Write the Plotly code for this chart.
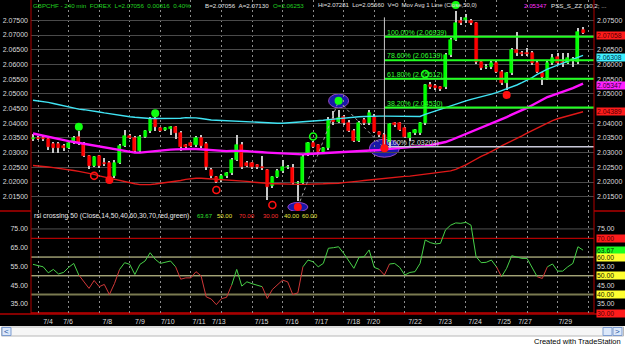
import plotly.graph_objects as go

W, H = 625, 347
def px(x): return x / W
def py(y): return 1 - y / H

FONT = "Liberation Sans, Arial, sans-serif"

# ---------------- data ----------------
opens = [2.0346,2.0350,2.0349,2.0345,2.0330,2.0328,2.0322,2.0316,2.0336,2.0354,
         2.0330,2.0288,2.0255,2.0288,2.0266,2.0266,2.0220,2.0266,2.0322,2.0355,
         2.0350,2.0305,2.0353,2.0372,2.0414,2.0384,2.0377,2.0379,2.0386,2.0368,
         2.0326,2.0331,2.0325,2.0348,2.0330,2.0241,2.0218,2.0206,2.0220,2.0229,
         2.0275,2.0326,2.0266,2.0263,2.0258,2.0252,2.0241,2.0186,2.0218,2.0236,
         2.0250,2.0246,2.0195,2.0197,2.0297,2.0331,2.0325,2.0303,2.0314,2.0416,
         2.0405,2.0420,2.0402,2.0374,2.0340,2.0411,2.0402,2.0422,2.0371,2.0360,
         2.0335,2.0400,2.0400,2.0382,2.0349,2.0365,2.0366,2.0400,2.0530,2.0528,
         2.0524,2.0524,2.0632,2.0683,2.0748,2.0750,2.0746,2.0740,2.0609,2.0590,
         2.0590,2.0604,2.0575,2.0536,2.0570,2.0649,2.0640,2.0640,2.0638,2.0604,
         2.0570,2.0553,2.0604,2.0626,2.0609,2.0604,2.0610,2.0609,2.0716]
highs = [2.0362,2.0356,2.0355,2.0350,2.0336,2.0335,2.0328,2.0340,2.0358,2.0372,
         2.0335,2.0292,2.0290,2.0292,2.0280,2.0270,2.0275,2.0330,2.0377,2.0362,
         2.0358,2.0360,2.0378,2.0420,2.0420,2.0388,2.0386,2.0392,2.0392,2.0372,
         2.0330,2.0336,2.0355,2.0360,2.0335,2.0248,2.0222,2.0226,2.0235,2.0280,
         2.0360,2.0335,2.0270,2.0268,2.0262,2.0290,2.0245,2.0222,2.0245,2.0275,
         2.0258,2.0260,2.0205,2.0292,2.0336,2.0340,2.0330,2.0320,2.0420,2.0440,
         2.0445,2.0428,2.0410,2.0380,2.0408,2.0418,2.0445,2.0430,2.0375,2.0365,
         2.0400,2.0405,2.0405,2.0386,2.0370,2.0380,2.0405,2.0535,2.0540,2.0532,
         2.0528,2.0640,2.0690,2.0780,2.0760,2.0770,2.0755,2.0745,2.0612,2.0600,
         2.0612,2.0610,2.0580,2.0575,2.0655,2.0711,2.0645,2.0655,2.0645,2.0610,
         2.0575,2.0610,2.0635,2.0640,2.0640,2.0640,2.0625,2.0725,2.0728]
lows = [2.0338,2.0342,2.0340,2.0310,2.0300,2.0298,2.0305,2.0312,2.0330,2.0325,
        2.0285,2.0245,2.0250,2.0248,2.0255,2.0205,2.0215,2.0262,2.0318,2.0345,
        2.0298,2.0300,2.0348,2.0368,2.0375,2.0370,2.0372,2.0360,2.0345,2.0305,
        2.0315,2.0318,2.0320,2.0315,2.0240,2.0212,2.0195,2.0200,2.0215,2.0225,
        2.0270,2.0245,2.0250,2.0245,2.0244,2.0240,2.0139,2.0180,2.0212,2.0230,
        2.0245,2.0190,2.0135,2.0190,2.0290,2.0315,2.0298,2.0298,2.0310,2.0395,
        2.0400,2.0395,2.0370,2.0335,2.0335,2.0395,2.0395,2.0365,2.0352,2.0312,
        2.0315,2.0388,2.0372,2.0350,2.0340,2.0360,2.0360,2.0395,2.0515,2.0512,
        2.0510,2.0518,2.0625,2.0678,2.0735,2.0740,2.0735,2.0600,2.0580,2.0585,
        2.0585,2.0570,2.0530,2.0513,2.0565,2.0630,2.0628,2.0630,2.0598,2.0570,
        2.0530,2.0548,2.0598,2.0598,2.0590,2.0600,2.0590,2.0600,2.0703]
closes = [2.0350,2.0347,2.0345,2.0318,2.0315,2.0314,2.0316,2.0334,2.0348,2.0332,
          2.0290,2.0255,2.0286,2.0255,2.0260,2.0210,2.0266,2.0322,2.0355,2.0350,
          2.0305,2.0353,2.0372,2.0414,2.0387,2.0375,2.0383,2.0388,2.0366,2.0318,
          2.0320,2.0323,2.0348,2.0322,2.0252,2.0220,2.0201,2.0221,2.0229,2.0275,
          2.0326,2.0252,2.0255,2.0252,2.0250,2.0246,2.0184,2.0218,2.0238,2.0252,
          2.0252,2.0195,2.0198,2.0286,2.0331,2.0320,2.0303,2.0314,2.0411,2.0405,
          2.0418,2.0402,2.0374,2.0340,2.0402,2.0402,2.0436,2.0371,2.0360,2.0320,
          2.0397,2.0394,2.0377,2.0354,2.0365,2.0377,2.0400,2.0530,2.0524,2.0521,
          2.0518,2.0632,2.0683,2.0740,2.0742,2.0758,2.0740,2.0609,2.0587,2.0592,
          2.0606,2.0575,2.0536,2.0570,2.0649,2.0638,2.0634,2.0635,2.0604,2.0575,
          2.0558,2.0604,2.0621,2.0604,2.0604,2.0621,2.0618,2.0711,2.07058]

ma_cyan = [2.0478,2.0476,2.0474,2.0471,2.0467,2.0463,2.0459,2.0455,2.0451,2.0448,
           2.0446,2.0444,2.0441,2.0438,2.0435,2.0432,2.0429,2.0426,2.0424,2.0422,
           2.0420,2.0418,2.0417,2.0416,2.0416,2.0416,2.0416,2.0416,2.0416,2.0417,
           2.0419,2.0419,2.0418,2.0416,2.0413,2.0411,2.0410,2.0409,2.0408,2.0407,
           2.0406,2.0405,2.0404,2.0403,2.0402,2.0401,2.0400,2.0400,2.0400,2.0400,
           2.0401,2.0402,2.0403,2.0404,2.0405,2.0406,2.0408,2.0410,2.0412,2.0414,
           2.0416,2.0418,2.0420,2.0421,2.0422,2.0423,2.0424,2.0424,2.0424,2.0424,
           2.0424,2.0423,2.0423,2.0422,2.0422,2.0422,2.0423,2.0430,2.0436,2.0442,
           2.0448,2.0453,2.0459,2.0465,2.0471,2.0476,2.0481,2.0485,2.0489,2.0494,
           2.0499,2.0504,2.0510,2.0516,2.0523,2.0530,2.0538,2.0546,2.0555,2.0566,
           2.0576,2.0584,2.0591,2.0598,2.0605,2.0612,2.0618,2.0624,2.06308]
ma_magenta = [2.0365,2.0361,2.0357,2.0353,2.0350,2.0346,2.0342,2.0339,2.0336,2.0333,
              2.0329,2.0325,2.0322,2.0319,2.0316,2.0313,2.0310,2.0307,2.0304,2.0301,
              2.0300,2.0300,2.0302,2.0304,2.0306,2.0308,2.0309,2.0310,2.0311,2.0312,
              2.0312,2.0312,2.0312,2.0311,2.0310,2.0308,2.0306,2.0305,2.0305,2.0306,
              2.0307,2.0306,2.0305,2.0303,2.0302,2.0301,2.0300,2.0299,2.0298,2.0297,
              2.0296,2.0295,2.0294,2.0294,2.0295,2.0296,2.0297,2.0298,2.0299,2.0300,
              2.0300,2.0301,2.0302,2.0303,2.0303,2.0304,2.0305,2.0307,2.0309,2.0311,
              2.0313,2.0315,2.0317,2.0318,2.0319,2.0320,2.0320,2.0322,2.0325,2.0328,
              2.0331,2.0336,2.0342,2.0349,2.0356,2.0363,2.0371,2.0378,2.0385,2.0392,
              2.0399,2.0407,2.0414,2.0421,2.0429,2.0436,2.0444,2.0452,2.0461,2.0470,
              2.0480,2.0489,2.0495,2.0501,2.0506,2.0512,2.0519,2.0527,2.05347]
ma_red = [2.0256,2.0255,2.0253,2.0251,2.0249,2.0247,2.0245,2.0242,2.0239,2.0236,
          2.0233,2.0231,2.0226,2.0221,2.0217,2.0214,2.0209,2.0204,2.0200,2.0196,
          2.0194,2.0191,2.0190,2.0191,2.0193,2.0195,2.0198,2.0200,2.0202,2.0205,
          2.0209,2.0212,2.0213,2.0213,2.0212,2.0211,2.0210,2.0208,2.0207,2.0205,
          2.0204,2.0203,2.0202,2.0200,2.0198,2.0196,2.0195,2.0194,2.0194,2.0193,
          2.0193,2.0192,2.0192,2.0192,2.0192,2.0193,2.0193,2.0194,2.0195,2.0195,
          2.0196,2.0198,2.0199,2.0201,2.0203,2.0205,2.0207,2.0209,2.0211,2.0213,
          2.0214,2.0216,2.0218,2.0219,2.0220,2.0222,2.0224,2.0226,2.0228,2.0230,
          2.0232,2.0235,2.0238,2.0243,2.0250,2.0258,2.0268,2.0278,2.0287,2.0295,
          2.0303,2.0313,2.0323,2.0331,2.0340,2.0349,2.0357,2.0366,2.0375,2.0384,
          2.0392,2.0401,2.0409,2.0415,2.0420,2.0425,2.0430,2.0435,2.04389]

rsi = [56.1,55.6,54.8,51.6,53.4,51.0,51.8,54.5,56.6,50.4,
       46.5,43.3,47.5,44.2,45.4,40.0,45.9,53.4,57.0,56.1,
       50.7,56.1,57.9,62.3,58.8,56.6,57.2,57.9,54.8,48.2,
       48.9,48.9,52.2,50.0,38.8,37.6,34.6,37.8,38.5,45.0,
       53.4,44.5,46.8,45.8,45.0,44.2,37.9,42.7,45.4,47.7,
       46.8,40.0,40.9,54.8,58.4,57.5,54.8,56.6,64.7,65.0,
       65.5,62.0,58.0,54.0,59.8,60.2,63.8,54.5,53.4,50.4,
       56.3,56.6,54.5,50.4,51.8,52.2,56.6,69.1,67.7,67.0,
       67.3,74.5,77.0,78.2,78.0,78.5,77.0,60.2,57.0,57.2,
       58.4,54.8,49.5,54.0,60.7,59.8,59.3,59.3,54.0,49.5,
       48.6,54.8,56.3,52.5,52.5,54.8,56.6,65.5,63.67]
rsi_state = ("gggggggggg" "rrrrrrrr" "ggggggggggg" "rrrrrrrrrrr" "gggggg" "rrrrrrrr"
             "ggggggggggggggg" "rr" "ggggggggggggggggggggg" "r" "ggggggg" "rr" "ggggggg")

rsi_levels = [70, 60, 50, 40, 30]

date_pos = [2.95, 6.87, 14.6, 20.99, 26.45, 32.6, 36.5, 44.9, 50.8, 56.6,
            62.9, 66.8, 75.0, 80.9, 86.8, 92.5, 96.6, 104.5]
date_text = ["7/4", "7/6", "7/8", "7/9", "7/10", "7/11", "7/13", "7/15", "7/16", "7/17",
             "7/18", "7/20", "7/22", "7/23", "7/24", "7/25", "7/27", "7/29"]

price_ticks = [2.015, 2.020, 2.025, 2.030, 2.035, 2.040, 2.045, 2.050, 2.055,
               2.060, 2.065, 2.070, 2.075]
price_ticks_right = [2.015, 2.020, 2.025, 2.030, 2.035, 2.040, 2.050, 2.055,
                     2.060, 2.065, 2.075]
rsi_ticks = [35, 45, 55, 65, 75]
rsi_ticks_right = [35, 45, 55, 75]

fib_pct = ["100.00%", "78.60%", "61.80%", "38.20%", "0.00%"]
fib_price = [2.06939, 2.06139, 2.05512, 2.04530, 2.03203]
fib_anchor = 69

green_ball_x = [9, 24, 60, 83]
green_ball_y = [2.0388, 2.0434, 2.0476, 2.0802]
red_ball_x = [15, 52, 69, 93]
red_ball_y = [2.0207, 2.0115, 2.0315, 2.0496]
red_ring_x = [12, 36, 47]
red_ring_y = [2.0221, 2.0173, 2.0122]
green_ring_x = [55, 77]
green_ring_y = [2.0355, 2.0567]
zigzag_x = [52, 60, 69]
zigzag_y = [2.0115, 2.0476, 2.0315]

# ---------------- geometry ----------------
n = len(opens)
idx = list(range(n))
X0_PIX, BAR_PIX = 33.0, 5.093
x_lo = (31 - X0_PIX) / BAR_PIX
x_hi = (594 - X0_PIX) / BAR_PIX
P_PER_PIX = 1 / 2940.0
y_main = [2.07 - (211 - 35) * P_PER_PIX, 2.07 + 35 * P_PER_PIX]
R_PER_PIX = 1 / 1.875
y_rsi = [70 - (313.7 - 238.3) * R_PER_PIX, 70 + (238.3 - 211) * R_PER_PIX]

GREEN, RED = "#00ff00", "#ff0000"
fig = go.Figure()

# wicks
fig.add_trace(go.Bar(x=idx, base=lows, y=[h - l for h, l in zip(highs, lows)],
                     width=0.2, marker=dict(color="#c8c8c8", line=dict(width=0)),
                     xaxis="x", yaxis="y", hoverinfo="skip", showlegend=False))
# bodies
body_col = [GREEN if c >= o else RED for o, c in zip(opens, closes)]
fig.add_trace(go.Bar(x=idx, base=[min(o, c) for o, c in zip(opens, closes)],
                     y=[abs(c - o) for o, c in zip(opens, closes)], width=0.6,
                     marker=dict(color=body_col, line=dict(color=body_col, width=0.6)),
                     xaxis="x", yaxis="y", hoverinfo="skip", showlegend=False))

# moving averages
for arr, col, w in [(ma_red, "#e01818", 1.4), (ma_magenta, "#ff10ff", 2.4), (ma_cyan, "#40e4f4", 1.4)]:
    fig.add_trace(go.Scatter(x=idx, y=arr, mode="lines", line=dict(color=col, width=w),
                             xaxis="x", yaxis="y", hoverinfo="skip", showlegend=False))

# zigzag
fig.add_trace(go.Scatter(x=zigzag_x, y=zigzag_y, mode="lines",
                         line=dict(color="#a0a0a0", width=1, dash="dot"),
                         xaxis="x", yaxis="y", hoverinfo="skip", showlegend=False))

# fibonacci
for pct, p in zip(fib_pct, fib_price):
    is_zero = p == fib_price[-1]
    fig.add_trace(go.Scatter(x=[fib_anchor, x_hi], y=[p, p], mode="lines",
                             line=dict(color="#c8c8d8" if is_zero else "#20ff20",
                                       width=1.5 if is_zero else 2),
                             xaxis="x", yaxis="y", hoverinfo="skip", showlegend=False))
fig.add_trace(go.Scatter(x=[fib_anchor, fib_anchor], y=[fib_price[-1], 2.0760], mode="lines",
                         line=dict(color="#c8c8c8", width=1),
                         xaxis="x", yaxis="y", hoverinfo="skip", showlegend=False))

# markers
fig.add_trace(go.Scatter(x=green_ball_x, y=green_ball_y, mode="markers",
                         marker=dict(color="#10ff10", size=8, line=dict(width=0)),
                         xaxis="x", yaxis="y", hoverinfo="skip", showlegend=False))
fig.add_trace(go.Scatter(x=red_ball_x, y=red_ball_y, mode="markers",
                         marker=dict(color="#ff1010", size=8, line=dict(width=0)),
                         xaxis="x", yaxis="y", hoverinfo="skip", showlegend=False))
fig.add_trace(go.Scatter(x=red_ring_x, y=red_ring_y, mode="markers",
                         marker=dict(symbol="circle-open", color="#ff1010", size=7, line=dict(width=1.6)),
                         xaxis="x", yaxis="y", hoverinfo="skip", showlegend=False))
fig.add_trace(go.Scatter(x=green_ring_x, y=green_ring_y, mode="markers",
                         marker=dict(symbol="circle-open", color="#10ff10", size=7, line=dict(width=1.6)),
                         xaxis="x", yaxis="y", hoverinfo="skip", showlegend=False))
# right price axis helper
fig.add_trace(go.Scatter(x=[0], y=[closes[0]], mode="markers", opacity=0,
                         xaxis="x", yaxis="y3", hoverinfo="skip", showlegend=False))

# RSI segments
segs = []
cur = None
for i in range(1, n):
    c = rsi_state[i]
    if cur is None or c != cur[0]:
        cur = [c, [i - 1, i]]
        segs.append(cur)
    else:
        cur[1].append(i)
for c, pts in segs:
    fig.add_trace(go.Scatter(x=pts, y=[rsi[j] for j in pts], mode="lines",
                             line=dict(color="#48d048" if c == "g" else "#d03838", width=1),
                             xaxis="x2", yaxis="y2", hoverinfo="skip", showlegend=False))
fig.add_trace(go.Scatter(x=[0], y=[rsi[0]], mode="markers", opacity=0,
                         xaxis="x3", yaxis="y2", hoverinfo="skip", showlegend=False))
fig.add_trace(go.Scatter(x=[0], y=[rsi[0]], mode="markers", opacity=0,
                         xaxis="x2", yaxis="y4", hoverinfo="skip", showlegend=False))

shapes = []
# ellipses at zigzag pivots
for (zx, zy), (hw, hh) in zip(zip(zigzag_x, zigzag_y), [(10, 4.5), (10, 7), (15, 9)]):
    shapes.append(dict(type="circle", xref="x", yref="y", xsizemode="pixel", ysizemode="pixel",
                       xanchor=zx, yanchor=zy, x0=-hw, x1=hw, y0=-hh, y1=hh,
                       fillcolor="#1818a8", line=dict(color="#9848c8", width=1), layer="below"))
# RSI level lines
lvl_style = {70: ("#b00000", 1.2), 60: ("#e8e8a8", 1), 50: ("#e8e8a8", 1), 40: ("#7a7a50", 2), 30: ("#c00000", 2)}
for lv in rsi_levels:
    c, w = lvl_style[lv]
    shapes.append(dict(type="line", xref="x2 domain", yref="y2", x0=0, x1=1, y0=lv, y1=lv,
                       line=dict(color=c, width=w), layer="below"))
shapes.append(dict(type="line", xref="x2 domain", yref="y2", x0=0, x1=1, y0=75, y1=75,
                   line=dict(color="#505050", width=1), layer="below"))
# frame lines
BR = "#b00000"
for xx in (31, 594):
    shapes.append(dict(type="line", xref="paper", yref="paper", x0=px(xx), x1=px(xx),
                       y0=py(0), y1=py(314), line=dict(color=BR, width=1), layer="above"))
for a, b in ((0, 31), (594, 625)):
    shapes.append(dict(type="line", xref="paper", yref="paper", x0=px(a), x1=px(b),
                       y0=py(211), y1=py(211), line=dict(color=BR, width=1.5), layer="above"))
shapes.append(dict(type="line", xref="paper", yref="paper", x0=0, x1=1,
                   y0=py(314), y1=py(314), line=dict(color=BR, width=1.5), layer="above"))
# bottom white band with scrollbar
shapes.append(dict(type="rect", xref="paper", yref="paper", x0=0, x1=1, y0=0, y1=py(326),
                   fillcolor="#ffffff", line=dict(width=0), layer="above"))
shapes.append(dict(type="rect", xref="paper", yref="paper", x0=px(1.5), x1=px(623.5),
                   y0=py(336), y1=py(327), fillcolor="#f6f6f6", line=dict(color="#b8b8b8", width=1), layer="above"))
for a, b in ((2, 11), (603, 612), (613, 622)):
    shapes.append(dict(type="rect", xref="paper", yref="paper", x0=px(a), x1=px(b),
                       y0=py(335.5), y1=py(327.5), fillcolor="#dce8fa", line=dict(color="#7c9cd0", width=1), layer="above"))

ann = []
def txt(x, y, s, col, size=6.5, xanchor="left"):
    ann.append(dict(x=px(x), y=py(y), xref="paper", yref="paper", text=s, showarrow=False,
                    xanchor=xanchor, yanchor="middle", font=dict(family=FONT, size=size, color=col),
                    borderpad=0))

NB = " \u00a0"
# header
hdr = [("GBPCHF - 240 min  FOREX  L=2.07056  0.00816  0.40%", "#20d020", 32, 6.2),
       ("B=2.07056  A=2.07130", "#e0e0e0", 204, 6.2),
       ("O=2.06253", "#20d020", 272, 6.2),
       ("Hi=2.07281  Lo=2.05660  V=0  Mov Avg 1 Line (Close,50,0)", "#e0e0e0", 317, 6.0),
       (f"{ma_magenta[-1]:.5f}", "#ff30ff", 523, 6.2),
       ("PSS_S_ZZ (10,2; ...", "#e0e0e0", 550, 6.2)]
for s, c, x, sz in hdr:
    txt(x, 5.5, s.replace("  ", NB), c, size=sz)

# RSI header
txt(33, 216, "rsi crossing 50 (Close,14,50,40,60,30,70,red,green)", "#e8e8e8", size=6.8)
rsi_hdr = [(f"{rsi[-1]:.2f}", "#30e030", 196), ("50.00", "#e8e840", 216), ("70.00", "#ff3030", 238),
           ("30.00", "#ff3030", 262), ("40.00", "#e8e840", 283), ("60.00", "#e8e840", 301)]
for s, c, x in rsi_hdr:
    txt(x, 216, s, c, size=6.0)

# fib labels
for pct, p in zip(fib_pct, fib_price):
    col = "#e0e0e0" if p == fib_price[-1] else "#30ff30"
    ann.append(dict(x=fib_anchor + 0.3, y=p, xref="x", yref="y", text=f"{pct} ({p:.5f})",
                    showarrow=False, xanchor="left", yanchor="bottom", yshift=-1,
                    font=dict(family=FONT, size=7, color=col), borderpad=0))

# right value boxes
def box(v, yref, s, bg, fg, shift=0):
    ann.append(dict(x=px(595.5), y=v, xref="paper", yref=yref, text=s, showarrow=False,
                    xanchor="left", yanchor="middle", bgcolor=bg, width=28, height=7, align="left",
                    yshift=shift, font=dict(family=FONT, size=6.8, color=fg), borderpad=0))
box(closes[-1], "y", f"{closes[-1]:.5f}", "#ff1c1c", "#500000", -2)
box(ma_cyan[-1], "y", f"{ma_cyan[-1]:.5f}", "#40f0ff", "#003048", -2)
box(ma_magenta[-1], "y", f"{ma_magenta[-1]:.5f}", "#ff20ff", "#300030", -2)
box(ma_red[-1], "y", f"{ma_red[-1]:.5f}", "#ff1c1c", "#500000", 0)
box(70, "y2", "70.00", "#ff1c1c", "#500000")
box(rsi[-1], "y2", f"{rsi[-1]:.2f}", "#20ff20", "#003000")
box(60, "y2", "60.00", "#ffff30", "#202000")
box(50, "y2", "50.00", "#ffff30", "#202000")
box(40, "y2", "40.00", "#ffff30", "#202000")
box(30, "y2", "30.00", "#ff1c1c", "#500000")

# footer
txt(6.5, 331.5, "<", "#2050a0", size=8, xanchor="center")
txt(617.5, 331.5, ">", "#2050a0", size=8, xanchor="center")
txt(622, 341.5, "Created with TradeStation", "#000000", size=7.5, xanchor="right")

tickfont = dict(family=FONT, size=7, color="#dcdcdc")
xgrid = dict(showgrid=True, gridcolor="#8c8c8c", griddash="2px,3px", gridwidth=1,
             tickmode="linear", tick0=1, dtick=6, showticklabels=False, ticks="",
             zeroline=False, showline=False, range=[x_lo, x_hi], domain=[px(31), px(594)])

fig.update_layout(
    width=W, height=H, autosize=False, margin=dict(l=0, r=0, t=0, b=0),
    paper_bgcolor="#000000", plot_bgcolor="#000000", barmode="overlay", bargap=0,
    showlegend=False, hovermode=False,
    xaxis=dict(anchor="y", **xgrid),
    xaxis2=dict(anchor="y2", **xgrid),
    xaxis3=dict(overlaying="x2", anchor="y2", side="bottom", range=[x_lo, x_hi],
                domain=[px(31), px(594)], tickmode="array", tickvals=date_pos, ticktext=date_text,
                showgrid=False, zeroline=False, showline=False, ticks="", tickfont=tickfont,
                ticklabelstandoff=2),
    yaxis=dict(domain=[py(211), 1], range=y_main, anchor="x", side="left", tickmode="array",
               tickvals=price_ticks, tickformat=".5f", showgrid=True, gridcolor="#4a4a4a",
               gridwidth=1, zeroline=False, showline=False, ticks="", tickfont=tickfont,
               ticklabelstandoff=2),
    yaxis3=dict(overlaying="y", range=y_main, anchor="x", side="right", tickmode="array",
                tickvals=price_ticks_right, tickformat=".5f", showgrid=False, zeroline=False,
                showline=False, ticks="", tickfont=tickfont, ticklabelstandoff=2),
    yaxis2=dict(domain=[py(313.7), py(211)], range=y_rsi, anchor="x2", side="left",
                tickmode="array", tickvals=rsi_ticks, tickformat=".2f", showgrid=False,
                zeroline=False, showline=False, ticks="", tickfont=tickfont, ticklabelstandoff=2),
    yaxis4=dict(overlaying="y2", range=y_rsi, anchor="x2", side="right", tickmode="array",
                tickvals=rsi_ticks_right, tickformat=".2f", showgrid=False, zeroline=False,
                showline=False, ticks="", tickfont=tickfont, ticklabelstandoff=2),
    shapes=shapes, annotations=ann,
)

fig.write_html("out.html")
